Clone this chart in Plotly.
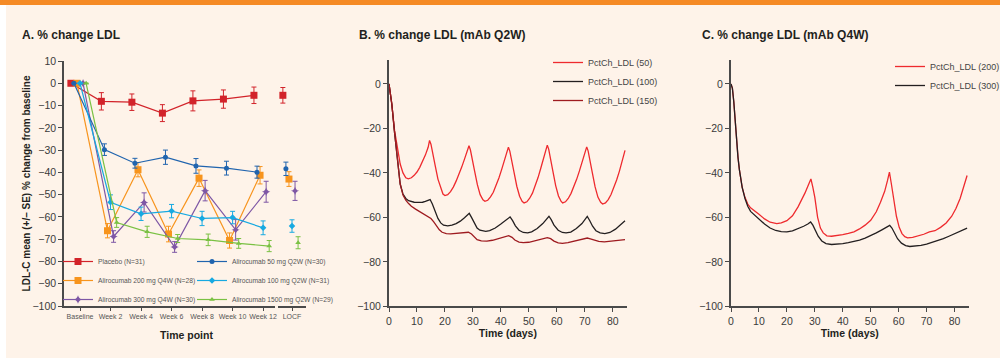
import plotly.graph_objects as go

W, H = 1000, 358
FONT = "Arial, Liberation Sans, Helvetica, sans-serif"
BG = "#FEF3E9"
AXC = "#4a4a4a"
TXT = "#231F20"


def fx(p):
    return p / W


def fy(p):
    return 1 - p / H


# ---------------- Panel A data ----------------
weeks = ["Baseline", "Week 2", "Week 4", "Week 6", "Week 8", "Week 10", "Week 12"]
locf_label = ["LOCF"]

placebo_mean = [0, -8.1, -8.5, -13.4, -7.9, -7.1, -5.4]
placebo_se = [0, 3.9, 3.7, 3.8, 4.5, 4.1, 3.7]
placebo_locf, placebo_locf_se = -5.4, 3.5

q2w50_mean = [0, -29.8, -35.9, -33.2, -37.1, -38.1, -39.9]
q2w50_se = [0, 2.6, 2.2, 3.2, 3.3, 3.1, 2.7]
q2w50_locf, q2w50_locf_se = -38.4, 3.0

q4w200_mean = [0, -66.2, -38.8, -67.7, -42.6, -70.6, -41.3]
q4w200_se = [0, 3.2, 3.2, 3.5, 3.7, 3.4, 3.9]
q4w200_locf, q4w200_locf_se = -43.0, 3.3

q2w100_mean = [0, -53.4, -58.6, -57.4, -60.7, -60.3, -64.9]
q2w100_se = [0, 3.3, 3.0, 3.0, 3.2, 2.8, 3.1]
q2w100_locf, q2w100_locf_se = -64.1, 2.8

q4w300_mean = [0, -68.8, -53.5, -73.5, -48.2, -65.8, -48.7]
q4w300_se = [0, 2.6, 4.3, 2.4, 4.6, 4.6, 4.7]
q4w300_locf, q4w300_locf_se = -48.3, 4.3

q2w1500_mean = [0, -62.5, -66.7, -69.7, -70.3, -71.9, -73.1]
q2w1500_se = [0, 2.2, 2.5, 1.8, 2.6, 2.2, 2.5]
q2w1500_locf, q2w1500_locf_se = -71.6, 2.7

# ---------------- Panel B data (mAb Q2W) ----------------
t_b50 = [0, 1, 2, 3, 4, 5, 6, 6.9, 8, 9, 10, 11, 12, 13, 14, 14.5, 15, 15.5, 16.5, 17.5, 18.5, 19.3,
         20, 21, 22, 23, 24, 25, 26, 27, 28, 28.6, 29.1, 29.6, 30.6, 31.6, 32.6, 33.6, 34.3, 35.3, 36.3,
         37.3, 38.3, 39.3, 40.3, 41.3, 42.2, 42.7, 43.2, 43.7, 44.7, 45.7, 46.7, 47.6, 48.3, 49.3, 50.3,
         51.3, 52.3, 53.3, 54.3, 55.3, 56.1, 56.6, 57.1, 57.6, 58.6, 59.6, 60.6, 61.5, 62.1, 63.1, 64.1,
         65.1, 66.1, 67.1, 68.1, 69.1, 70.1, 70.7, 71.2, 71.7, 72.7, 73.7, 74.7, 75.7, 76.4, 77.4, 78.4,
         79.4, 80.4, 81.4, 82.4, 83.4, 84.4]
v_b50 = [0, -9, -21, -29, -36, -40, -42.2, -42.7, -42.2, -41.1, -39.6, -37.5, -34.9, -32, -28.5, -25.4,
         -27.1, -29.9, -36.6, -42.8, -47.2, -49.5, -50.2, -49.8, -48.4, -46.4, -43.7, -40.8, -37.4, -33.8,
         -30, -27.8, -29.6, -32.3, -39.1, -45.3, -49.8, -52.1, -52.8, -52.3, -50.8, -48.7, -45.7, -42.3,
         -38.4, -34.3, -30.4, -28.4, -30.2, -32.9, -39.7, -46, -50.5, -52.8, -53.5, -53, -51.4, -49.1,
         -45.8, -42.1, -37.8, -33.3, -29.3, -27.5, -29.3, -32.2, -39.2, -45.7, -50.4, -52.7, -53.5, -53,
         -51.5, -49.2, -46.2, -42.9, -39.1, -35.1, -30.8, -28.3, -30.1, -32.9, -39.9, -46.3, -50.9, -53.2,
         -54, -53.5, -52, -49.7, -46.6, -43.2, -39.2, -34.7, -29.9]

t_b100 = [0, 1, 2, 3, 4, 5, 6, 7, 8, 9, 10, 11, 12, 13, 14, 14.7, 15.5, 16.5, 17.5, 18.5, 19.5, 21,
          22.5, 24, 25.5, 27, 28.7, 29.5, 30.5, 31.5, 32.5, 33.5, 34.6, 36, 38, 40, 42, 43.3, 44.2, 45.2,
          46.5, 48, 49.6, 51, 53, 55, 57.2, 58, 59, 60.5, 62, 63.3, 65, 67, 69, 70.9, 71.8, 72.8, 74,
          75.5, 77.2, 79, 81, 83, 84.4]
v_b100 = [0, -9, -22, -35, -45, -49.5, -51.5, -52.5, -53, -53.2, -53.3, -53.4, -53.2, -52.8, -52.3, -52,
          -54, -57.5, -60.5, -62.5, -63.5, -63.8, -63.5, -62.8, -61.7, -60.2, -58.2, -60, -62.8, -64.8,
          -65.8, -66.2, -66.3, -66, -64.8, -63, -61, -59.8, -61.5, -63.8, -65.8, -66.8, -67, -66.5, -65,
          -62.8, -59.5, -61, -63.5, -65.8, -66.8, -67, -66.6, -65, -62.8, -59.6, -61.5, -64, -66, -67,
          -67.3, -66.8, -65.3, -63.2, -61.5]

t_b150 = [0, 1, 2, 3, 4, 5, 6, 7, 8, 9.5, 11, 12.5, 14, 15, 16, 17, 18, 19, 20.5, 22, 24, 26, 28.4,
          29.5, 30.5, 31.5, 33, 35, 37, 39, 41, 42.8, 44, 45, 46.5, 48, 50, 52, 54, 56.6, 57.8, 59, 60.5,
          62, 64, 66, 68, 70.9, 72, 73.5, 75, 77, 79, 81, 84.4]
v_b150 = [0, -9, -22, -35, -45, -50, -52.3, -53.8, -55, -56.3, -57.5, -58.5, -59.6, -60.5, -62, -64,
          -65.6, -66.7, -67.3, -67.4, -67.2, -67, -66.7, -67.5, -69, -70, -70.6, -70.7, -70.3, -69.6,
          -68.8, -68.2, -69, -70.2, -71.1, -71.4, -71.2, -70.6, -69.9, -69.1, -69.6, -70.7, -71.5, -71.7,
          -71.4, -70.8, -70.2, -69.3, -69.7, -70.4, -70.8, -71, -70.8, -70.6, -70]

# ---------------- Panel C data (mAb Q4W) ----------------
t_c200 = [0, 0.5, 1, 1.6, 2, 2.5, 3, 3.5, 4, 5, 6, 7, 8, 10, 12, 14, 16.4, 18, 20, 22, 24, 25.5, 26.5,
          27.5, 28.6, 29.3, 30, 31, 32, 33, 34.3, 36, 38, 40, 42, 44, 46, 48, 50, 52, 53.5, 55, 56,
          56.7, 57.4, 58.2, 59.2, 60.2, 61.2, 62.2, 63.2, 65, 67, 69, 71, 73, 75, 77, 79, 80.5, 82,
          83.3, 84.5]
v_c200 = [0, -2, -8, -20, -26, -33, -38.5, -43, -46.5, -51, -54, -55.7, -56.8, -58.6, -60.7, -62.2,
          -62.8, -62.5, -61.5, -59.3, -55.3, -51.8, -49, -46, -42.7, -46.5, -51, -60, -64.8, -67, -68.3,
          -68.5, -68.3, -67.8, -67.2, -66.5, -65.2, -63.5, -61.3, -57.5, -53.2, -48.3, -43.5, -39.7,
          -45, -52, -59.5, -64.5, -67.3, -68.7, -69.2, -69, -68.4, -67.6, -66.5, -66, -64.5, -62.5,
          -59.5, -56, -51.5, -46.5, -41.2]

t_c300 = [0, 0.5, 1, 1.6, 2, 2.5, 3, 3.5, 4, 5, 6, 7, 8, 10, 12, 14, 16, 18, 20, 22, 24, 26, 27.5,
          28.5, 29.3, 30.2, 31.2, 32.5, 34, 36, 38, 40, 42, 44, 46, 48, 50, 52, 54, 55.8, 56.8, 57.6,
          58.6, 59.6, 61, 62.5, 64, 66, 68, 70, 72, 74, 76, 78, 80, 82, 84.5]
v_c300 = [0, -2, -8, -20, -26, -33, -38.5, -43, -46.5, -51.5, -55, -57.3, -58.5, -60.8, -63, -64.8,
          -65.9, -66.4, -66.5, -66.1, -65.2, -64, -63, -62.1, -63.5, -66, -68.5, -70.6, -71.8, -72.2,
          -72.1, -71.8, -71.4, -70.9, -70.2, -69.3, -68.2, -67, -65.6, -64.3, -63.6, -64.8, -67.2,
          -69.6, -71.6, -72.7, -73.1, -73, -72.6, -72, -71.3, -70.5, -69.6, -68.5, -67.3, -66.1, -64.8]

# ---------------- styles ----------------
C_PLA = "#D2232A"
C_200 = "#F7941D"
C_300 = "#7E57A5"
C_50 = "#2064AE"
C_100 = "#17A9E1"
C_1500 = "#7AC143"

C_RED = "#EE2A2E"
C_BLK = "#231F20"
C_DRED = "#9E1B20"

fig = go.Figure()

# dodge offsets (category units) for Panel A
seriesA = [
    ("Placebo (N=31)", placebo_mean, placebo_se, placebo_locf, placebo_locf_se, C_PLA, "square", 7, -0.30, "legend"),
    ("Alirocumab 200 mg Q4W (N=28)", q4w200_mean, q4w200_se, q4w200_locf, q4w200_locf_se, C_200, "square", 7, -0.10, "legend"),
    ("Alirocumab 300 mg Q4W (N=30)", q4w300_mean, q4w300_se, q4w300_locf, q4w300_locf_se, C_300, "star-diamond", 6, 0.10, "legend"),
    ("Alirocumab 50 mg Q2W (N=30)", q2w50_mean, q2w50_se, q2w50_locf, q2w50_locf_se, C_50, "circle", 5, -0.20, "legend2"),
    ("Alirocumab 100 mg Q2W (N=31)", q2w100_mean, q2w100_se, q2w100_locf, q2w100_locf_se, C_100, "diamond", 5, 0.0, "legend2"),
    ("Alirocumab 1500 mg Q2W (N=29)", q2w1500_mean, q2w1500_se, q2w1500_locf, q2w1500_locf_se, C_1500, "triangle-up", 5, 0.20, "legend2"),
]

for name, mean, se, lv, lse, col, sym, size, off, leg in seriesA:
    xs = [i + off for i in range(len(weeks))]
    fig.add_trace(go.Scatter(
        x=xs, y=mean, name=name, mode="lines+markers",
        line=dict(color=col, width=1.2),
        marker=dict(symbol=sym, size=size, color=col, line=dict(width=0)),
        error_y=dict(type="data", array=se, color=col, thickness=1, width=2.5),
        xaxis="x", yaxis="y", legend=leg,
    ))
    fig.add_trace(go.Scatter(
        x=[6.95 + off], y=[lv], name=name, mode="markers", showlegend=False,
        marker=dict(symbol=sym, size=size, color=col, line=dict(width=0)),
        error_y=dict(type="data", array=[lse], color=col, thickness=1, width=2.5),
        xaxis="x4", yaxis="y",
    ))

# Panel B
for name, t, v, col in [("PctCh_LDL (50)", t_b50, v_b50, C_RED),
                        ("PctCh_LDL (100)", t_b100, v_b100, C_BLK),
                        ("PctCh_LDL (150)", t_b150, v_b150, C_DRED)]:
    fig.add_trace(go.Scatter(x=t, y=v, name=name, mode="lines",
                             line=dict(color=col, width=1.3),
                             xaxis="x2", yaxis="y2", legend="legend3"))

# Panel C
for name, t, v, col in [("PctCh_LDL (200)", t_c200, v_c200, C_RED),
                        ("PctCh_LDL (300)", t_c300, v_c300, C_BLK)]:
    fig.add_trace(go.Scatter(x=t, y=v, name=name, mode="lines",
                             line=dict(color=col, width=1.3),
                             xaxis="x3", yaxis="y3", legend="legend4"))

tickfont = dict(family=FONT, size=10.5, color="#3a3a3a")
ax_common = dict(showgrid=False, zeroline=False, showline=True, ticks="outside", automargin=False,
                 ticklen=4, tickcolor=AXC, linecolor=AXC, tickfont=tickfont)

yA_dom = [fy(306), fy(61)]
yBC_dom = [fy(306.3), fy(59.5)]

fig.update_layout(
    width=W, height=H,
    margin=dict(l=0, r=0, t=0, b=0, autoexpand=False),
    paper_bgcolor=BG, plot_bgcolor="rgba(0,0,0,0)",
    font=dict(family=FONT, color=TXT),
    xaxis=dict(domain=[fx(64), fx(275)], range=[-0.525, 6.39], anchor="y", automargin=False,
               tickmode="array", tickvals=list(range(len(weeks))), ticktext=weeks,
               showgrid=False, zeroline=False, showline=True, ticks="outside", ticklen=3,
               tickcolor=AXC, linecolor=AXC, linewidth=1.5,
               tickfont=dict(family=FONT, size=7, color="#555555")),
    xaxis4=dict(domain=[fx(278), fx(306)], range=[6.49, 7.41], anchor="y", automargin=False,
                tickmode="array", tickvals=[6.95], ticktext=locf_label,
                showgrid=False, zeroline=False, showline=True, ticks="outside", ticklen=3,
                tickcolor=AXC, linecolor=AXC, linewidth=1.5,
                tickfont=dict(family=FONT, size=7, color="#555555")),
    yaxis=dict(domain=yA_dom, range=[-100, 10], anchor="x", dtick=10, tick0=0,
               linewidth=1.5,
               title=dict(text="LDL-C mean (+/– SE) % change from baseline",
                          font=dict(family=FONT, size=10, color=TXT, weight="bold"), standoff=0),
               **ax_common),
    xaxis2=dict(domain=[fx(389), fx(626.7)], range=[0, 85], anchor="y2", dtick=10, tick0=0,
                linewidth=2,
                title=dict(text="Time (days)", font=dict(family=FONT, size=10.5, color=TXT, weight="bold"),
                           standoff=3),
                **ax_common),
    yaxis2=dict(domain=yBC_dom, range=[-100, 11], anchor="x2", tickvals=[0, -20, -40, -60, -80, -100],
                linewidth=2, **ax_common),
    xaxis3=dict(domain=[fx(731), fx(968.5)], range=[0, 85], anchor="y3", dtick=10, tick0=0,
                linewidth=2,
                title=dict(text="Time (days)", font=dict(family=FONT, size=10.5, color=TXT, weight="bold"),
                           standoff=3),
                **ax_common),
    yaxis3=dict(domain=yBC_dom, range=[-100, 11], anchor="x3", tickvals=[0, -20, -40, -60, -80, -100],
                linewidth=2, **ax_common),
    legend=dict(x=fx(58), y=fy(247), xanchor="left", yanchor="top", bgcolor="rgba(0,0,0,0)",
                font=dict(family=FONT, size=6.7, color="#555555"), tracegroupgap=0),
    legend2=dict(x=fx(192), y=fy(247), xanchor="left", yanchor="top", bgcolor="rgba(0,0,0,0)",
                 font=dict(family=FONT, size=6.7, color="#555555"), tracegroupgap=0),
    legend3=dict(x=fx(548), y=fy(48), xanchor="left", yanchor="top", bgcolor="rgba(0,0,0,0)",
                 font=dict(family=FONT, size=9, color="#444444"), tracegroupgap=0),
    legend4=dict(x=fx(890), y=fy(52), xanchor="left", yanchor="top", bgcolor="rgba(0,0,0,0)",
                 font=dict(family=FONT, size=9, color="#444444"), tracegroupgap=0),
    showlegend=True,
)

# panel titles and A x-axis title
titles = [("A. % change LDL", 20), ("B. % change LDL (mAb Q2W)", 357), ("C. % change LDL (mAb Q4W)", 700)]
for text, xp in titles:
    fig.add_annotation(text=text, x=fx(xp), y=fy(35), xref="paper", yref="paper",
                       xanchor="left", yanchor="middle", showarrow=False,
                       font=dict(family=FONT, size=12, color=TXT, weight="bold"))
fig.add_annotation(text="Time point", x=fx(186), y=fy(335), xref="paper", yref="paper",
                   xanchor="center", yanchor="middle", showarrow=False,
                   font=dict(family=FONT, size=10.5, color=TXT, weight="bold"))

# frame decoration: white left strip and orange top band
fig.add_shape(type="rect", xref="paper", yref="paper", x0=0, x1=fx(6), y0=0, y1=1,
              fillcolor="#FFFFFF", line=dict(width=0), layer="below")
fig.add_shape(type="rect", xref="paper", yref="paper", x0=0, x1=1, y0=fy(5), y1=1,
              fillcolor="#F58A25", line=dict(width=0), layer="below")

fig.write_html("out.html")
